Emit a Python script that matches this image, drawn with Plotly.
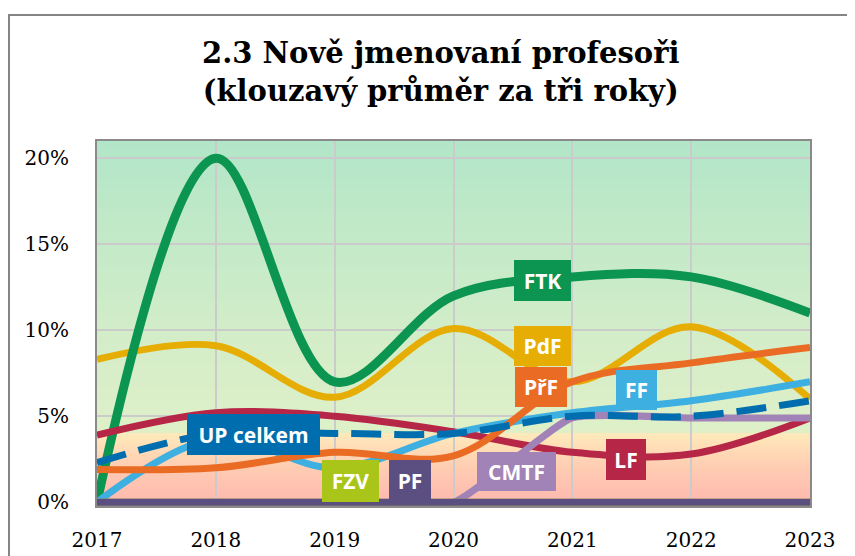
import plotly.graph_objects as go

years = [2017, 2018, 2019, 2020, 2021, 2022, 2023]

ftk = [0.0, 20.0, 7.0, 12.0, 13.1, 13.1, 11.0]
pdf = [8.3, 9.1, 6.1, 10.1, 7.0, 10.2, 6.0]
prf = [1.9, 2.0, 2.9, 2.7, 7.0, 8.1, 9.0]
lf = [3.9, 5.2, 5.0, 4.1, 2.9, 2.8, 4.9]
ff = [0.0, 3.7, 2.0, 4.0, 5.2, 5.9, 7.0]
cmtf = [0.0, 0.0, 0.0, 0.0, 4.9, 4.9, 4.9]
up = [2.3, 4.0, 4.0, 4.0, 5.0, 5.0, 5.9]
fzv = [0.0, 0.0, 0.0, 0.0, 0.0, 0.0, 0.0]
pf = [0.0, 0.0, 0.0, 0.0, 0.0, 0.0, 0.0]

y_ticks = [0, 0.05, 0.10, 0.15, 0.20]
y_tick_labels = ["0%", "5%", "10%", "15%", "20%"]

title_lines = ["2.3 Nově jmenovaní profesoři", "(klouzavý průměr za tři roky)"]

# label boxes: name, x (year), y (share), colour, box width, box height
labels = [
    ("UP celkem", 2018.32, 0.0392, "#006EAE", 133, 41),
    ("FZV", 2019.13, 0.0122, "#AAC51A", 57, 42),
    ("PF", 2019.63, 0.0122, "#5A4F80", 42, 42),
    ("CMTF", 2020.53, 0.0177, "#A183B8", 79, 39),
    ("LF", 2021.45, 0.0247, "#B52647", 40, 41),
    ("FF", 2021.54, 0.0651, "#3DAFE0", 41, 40),
    ("PřF", 2020.74, 0.0669, "#EA6C24", 52, 40),
    ("PdF", 2020.75, 0.0907, "#E6AE05", 57, 40),
    ("FTK", 2020.75, 0.1288, "#0B9550", 57, 41),
]

series = [
    ("PdF", pdf, "#E6AE05", 7, "solid", 1.0),
    ("FTK", ftk, "#0B9550", 9, "solid", 1.0),
    ("LF", lf, "#B52647", 7, "solid", 1.0),
    ("FF", ff, "#3DAFE0", 7, "solid", 1.0),
    ("PřF", prf, "#EA6C24", 7, "solid", 1.0),
    ("CMTF", cmtf, "#A183B8", 7, "solid", 0.5),
    ("UP celkem", up, "#006EAE", 7, "30px,13px", 1.0),
    ("FZV", fzv, "#AAC51A", 7, "solid", 1.0),
    ("PF", pf, "#5A4F80", 7, "solid", 1.0),
]

fig = go.Figure()
for name, vals, col, w, dash, sm in series:
    fig.add_trace(go.Scatter(
        x=years, y=[v / 100 for v in vals], mode="lines", name=name,
        line=dict(color=col, width=w, dash=dash, shape="spline", smoothing=sm),
        hoverinfo="skip", showlegend=False,
    ))

# page body has an 8px margin, so figure coordinates are offset by 8px
L, T, R, B = 89, 133, 53, 58
W, H = 855, 556
plot_w = W - L - R
plot_h = H - T - B

# background gradient (plot area)
stops = [
    (0.0, (255, 183, 175)),
    (0.10, (255, 203, 178)),
    (0.195, (255, 232, 186)),
    (0.205, (222, 240, 200)),
    (0.45, (212, 237, 200)),
    (1.0, (178, 230, 200)),
]

def colour_at(t):
    for (t0, c0), (t1, c1) in zip(stops[:-1], stops[1:]):
        if t0 <= t <= t1:
            f = (t - t0) / (t1 - t0) if t1 > t0 else 0
            return "rgb(%d,%d,%d)" % tuple(round(a + (b - a) * f) for a, b in zip(c0, c1))
    return "rgb(%d,%d,%d)" % stops[-1][1]

shapes = []
n = 120
for i in range(n):
    y0 = i / n
    y1 = (i + 1) / n
    shapes.append(dict(type="rect", xref="x domain", yref="y domain",
                       x0=0, x1=1, y0=y0, y1=y1 + 0.002,
                       fillcolor=colour_at((y0 + y1) / 2), line=dict(width=0),
                       layer="below"))

# outer chart frame (left and top edges visible)
shapes.append(dict(type="rect", xref="paper", yref="paper",
                   x0=(1 - L) / plot_w, x1=2.0, y0=-1.0, y1=(H - B - 7) / plot_h,
                   line=dict(color="#858585", width=2), fillcolor="rgba(0,0,0,0)",
                   layer="above"))

annotations = []
for text, x, y, col, w, h in labels:
    annotations.append(dict(
        x=x, y=y, xref="x", yref="y", text="<b>%s</b>" % text, showarrow=False,
        font=dict(family="Open Sans", size=21, color="white"),
        bgcolor=col, width=w, height=h, borderpad=0, borderwidth=0,
        align="center", valign="middle",
    ))

annotations.append(dict(
    x=(432 - L) / plot_w, y=(H - B - 64) / plot_h, xref="paper", yref="paper",
    text="<b>%s<br>%s</b>" % tuple(title_lines), showarrow=False,
    font=dict(family="DejaVu Serif", size=29, color="black"),
    xanchor="center", yanchor="middle", align="center",
))

fig.update_layout(
    width=W, height=H,
    margin=dict(l=L, r=R, t=T, b=B),
    paper_bgcolor="white", plot_bgcolor="rgba(0,0,0,0)",
    shapes=shapes,
    annotations=annotations,
)

fig.update_xaxes(
    range=[2017, 2023], tickvals=years, ticktext=[str(y) for y in years],
    showgrid=True, gridcolor="#CBCBCB", gridwidth=1.5,
    showline=True, linecolor="#8A8A8A", linewidth=2, mirror=True,
    ticks="", ticklabelstandoff=15, zeroline=False,
    tickfont=dict(family="DejaVu Serif", size=20, color="black"),
)
fig.update_yaxes(
    range=[-0.0022, 0.21], tickvals=y_ticks, ticktext=y_tick_labels,
    showgrid=True, gridcolor="#CBCBCB", gridwidth=1.5,
    showline=True, linecolor="#8A8A8A", linewidth=2, mirror=True,
    ticks="", ticklabelstandoff=22, zeroline=False,
    tickfont=dict(family="DejaVu Serif", size=20, color="black"),
)

fig.write_html("out.html")
